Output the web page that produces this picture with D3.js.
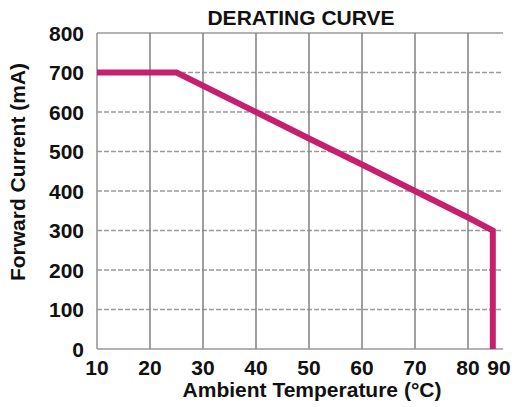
<!DOCTYPE html>
<html><head><meta charset="utf-8">
<script src="https://cdn.jsdelivr.net/npm/d3@7"></script>
<style>
html,body{margin:0;padding:0;background:#fff;}
text{font-family:"Liberation Sans",Arial,sans-serif;font-weight:bold;fill:#111;}
</style></head>
<body>
<svg id="c" width="517" height="407"></svg>
<script>
const temperature = [10, 25, 40, 50, 60, 70, 80, 88, 88];
const current     = [700, 700, 600, 533, 467, 400, 333, 300, 0];
const xTicks = [10, 20, 30, 40, 50, 60, 70, 80, 90];
const yTicks = [0, 100, 200, 300, 400, 500, 600, 700, 800];
const title = "DERATING CURVE";
const xLabel = "Ambient Temperature (°C)";
const yLabel = "Forward Current (mA)";

(function () {
const svg = d3.select("#c");
const pL = 97, pR = 503, pT = 33, pB = 349;
const x = d3.scaleLinear().domain([10, 80, 90]).range([pL, 468, 499]);
const y = d3.scaleLinear().domain([0, 800]).range([pB, pT]);

// horizontal dashed grid
svg.append("g").selectAll("line").data(yTicks.filter(d => d > 0 && d < 800)).join("line")
  .attr("x1", pL).attr("x2", pR)
  .attr("y1", d => y(d)).attr("y2", d => y(d))
  .attr("stroke", "#9a9a9a").attr("stroke-width", 1.3).attr("stroke-dasharray", "5,2");
// top line
svg.append("line").attr("x1", pL).attr("x2", pR).attr("y1", y(800)).attr("y2", y(800))
  .attr("stroke", "#9a9a9a").attr("stroke-width", 1.5);
// vertical grid
svg.append("g").selectAll("line").data(xTicks.filter(d => d > 10 && d < 90)).join("line")
  .attr("x1", d => x(d)).attr("x2", d => x(d))
  .attr("y1", pT).attr("y2", pB)
  .attr("stroke", "#888").attr("stroke-width", 1.6);
// axes lines
svg.append("line").attr("x1", pL).attr("x2", pL).attr("y1", pT).attr("y2", pB)
  .attr("stroke", "#999").attr("stroke-width", 1.6);
svg.append("line").attr("x1", pL).attr("x2", pR).attr("y1", pB).attr("y2", pB)
  .attr("stroke", "#999").attr("stroke-width", 1.6);

// tick labels
svg.append("g").selectAll("text").data(yTicks).join("text")
  .attr("x", 84).attr("y", d => y(d)).attr("dy", "0.36em")
  .attr("text-anchor", "end").style("font-size", "21px").text(d => d);
svg.append("g").selectAll("text").data(xTicks).join("text")
  .attr("x", d => x(d)).attr("y", 375)
  .attr("text-anchor", "middle").style("font-size", "21px").text(d => d);

// curve
const line = d3.line().x((d, i) => x(temperature[i])).y(d => y(d));
svg.append("path").datum(current).attr("d", line)
  .attr("fill", "none").attr("stroke", "#c51f6e").attr("stroke-width", 6)
  .attr("stroke-linejoin", "miter");

// titles
svg.append("text").attr("x", 301).attr("y", 25).attr("text-anchor", "middle")
  .style("font-size", "21px").text(title);
svg.append("text").attr("x", 312).attr("y", 397).attr("text-anchor", "middle")
  .style("font-size", "21px").text(xLabel);
svg.append("text").attr("transform", "translate(25,172) rotate(-90)")
  .attr("text-anchor", "middle").style("font-size", "21px").text(yLabel);
})();
</script>
</body></html>
